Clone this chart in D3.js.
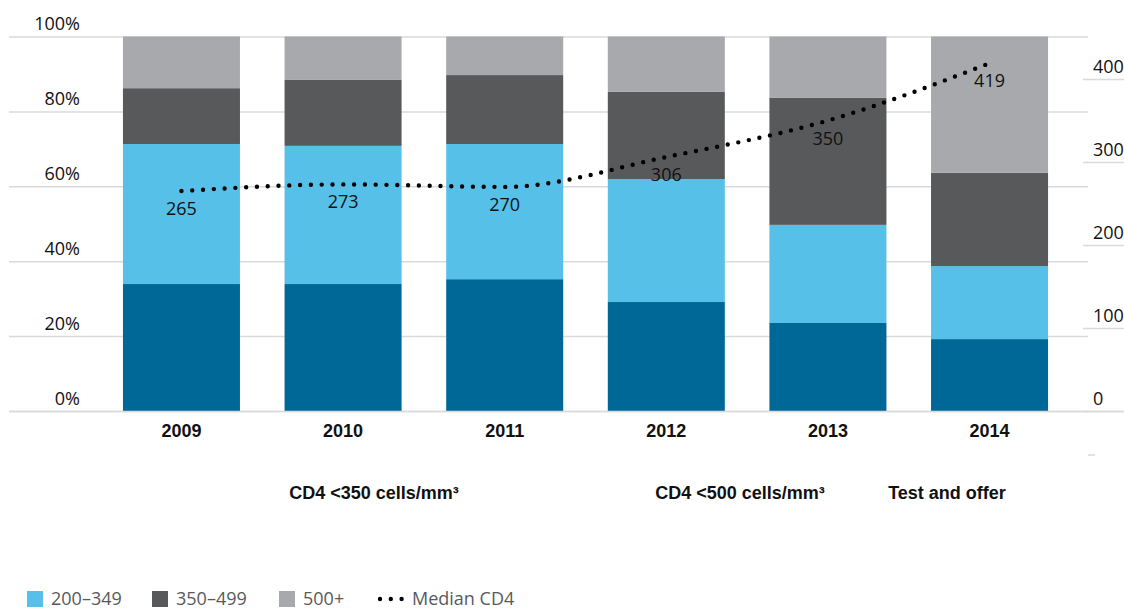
<!DOCTYPE html>
<html><head><meta charset="utf-8">
<script src="https://cdn.jsdelivr.net/npm/d3@7"></script>
<style>body{margin:0;background:#fff;overflow:hidden} svg{display:block}</style>
</head><body><svg id="c" width="1124" height="609"></svg>
<script>
// ---- data ----
const years = ["2009","2010","2011","2012","2013","2014"];
const seriesNames = ["<200","200–349","350–499","500+"];
const cd4Under200 = [33.9,33.9,35.2,29.1,23.5,19.2];
const cd4_200_349 = [37.4,36.9,36.1,32.8,26.2,19.5];
const cd4_350_499 = [14.9,17.6,18.4,23.3,33.9,24.9];
const cd4_500plus = [13.8,11.6,10.3,14.8,16.4,36.4];
const medianCD4 = [265,273,270,306,350,419];
const leftTicks = [0,20,40,60,80,100];
const rightTicks = [0,100,200,300,400];
const eligibility = ["CD4 <350 cells/mm³","CD4 <500 cells/mm³","Test and offer"];
const medianLabel = "Median CD4";

// ---- styles ----
const colors = ["#006896","#56c0e8","#58595b","#a7a9ac"];
const gridColor = "#d9dadb";
const axisFont = "'Open Sans', 'Noto Sans', sans-serif";
const condFont = "'Liberation Sans Narrow', 'Liberation Sans', sans-serif";

const svg = d3.select("#c");
const x = d3.scaleBand().domain(years).range([100,1071]).paddingInner(0.276).paddingOuter(0.142);
const yL = d3.scaleLinear().domain([0,100]).range([411,36.5]);
const yR = d3.scaleLinear().domain([0,400]).range([411,79]);

// left axis (gridlines + labels)
const gL = svg.append("g").attr("transform","translate(9,0)")
  .call(d3.axisRight(yL).tickValues(leftTicks).tickFormat(d=>d+"%").tickSize(1079));
gL.select(".domain").remove();
gL.selectAll(".tick line").attr("stroke",gridColor).attr("stroke-width",1.5);
gL.selectAll(".tick text").attr("x",71).attr("dy",-7).attr("text-anchor","end")
  .attr("font-family",axisFont).attr("font-size",18).attr("fill","#111");

// right axis
const gR = svg.append("g").attr("transform","translate(1083,0)")
  .call(d3.axisRight(yR).tickValues(rightTicks).tickSize(41));
gR.select(".domain").remove();
gR.selectAll(".tick line").attr("stroke",gridColor).attr("stroke-width",1.5);
gR.selectAll(".tick text").attr("x",10).attr("dy",-7).attr("text-anchor","start")
  .attr("font-family",axisFont).attr("font-size",18).attr("fill","#111");
svg.append("line").attr("x1",1088).attr("x2",1095).attr("y1",yR(-53)).attr("y2",yR(-53))
  .attr("stroke",gridColor).attr("stroke-width",1.5);

// stacked bars
const rows = years.map((yr,i)=>({year:yr, s0:cd4Under200[i], s1:cd4_200_349[i], s2:cd4_350_499[i], s3:cd4_500plus[i]}));
const stack = d3.stack().keys(["s0","s1","s2","s3"])(rows);
svg.append("g").selectAll("g").data(stack).join("g").attr("fill",(d,i)=>colors[i])
  .selectAll("rect").data(d=>d).join("rect")
  .attr("x",d=>x(d.data.year)).attr("width",x.bandwidth())
  .attr("y",d=>yL(Math.min(d[1],100))).attr("height",d=>yL(d[0])-yL(Math.min(d[1],100)));

// baseline over bars
svg.append("line").attr("x1",9).attr("x2",1124).attr("y1",yL(0)+0.5).attr("y2",yL(0)+0.5)
  .attr("stroke",gridColor).attr("stroke-width",1.5);

// median line
const cx = d => x(d)+x.bandwidth()/2;
const line = d3.line().x((d,i)=>cx(years[i])).y(d=>yR(d)).curve(d3.curveMonotoneX);
svg.append("path").datum(medianCD4).attr("d",line).attr("fill","none")
  .attr("stroke","#000").attr("stroke-width",4.4).attr("stroke-linecap","round")
  .attr("stroke-dasharray","0 10.8");
svg.append("g").selectAll("text").data(medianCD4).join("text")
  .attr("x",(d,i)=>cx(years[i])).attr("y",d=>yR(d)+24).attr("text-anchor","middle")
  .attr("font-family",axisFont).attr("font-size",18).attr("fill","#111").text(d=>d);

// year labels
svg.append("g").selectAll("text").data(years).join("text")
  .attr("x",d=>cx(d)).attr("y",437).attr("text-anchor","middle")
  .attr("font-family",condFont).attr("font-weight","bold").attr("font-size",18).attr("fill","#111").text(d=>d);

// eligibility labels
const eligX = [374,740,947];
svg.append("g").selectAll("text").data(eligibility).join("text")
  .attr("x",(d,i)=>eligX[i]).attr("y",499).attr("text-anchor","middle")
  .attr("font-family",condFont).attr("font-weight","bold").attr("font-size",18).attr("fill","#111").text(d=>d);

// legend
const lg = svg.append("g");
const legSw = [-66,27,152,279];
seriesNames.forEach((n,i)=>{
  lg.append("rect").attr("x",legSw[i]).attr("y",591).attr("width",16).attr("height",16).attr("fill",colors[i]);
  lg.append("text").attr("x",legSw[i]+24).attr("y",605).attr("font-family",axisFont).attr("font-size",18)
    .attr("fill","#58595b").text(n);
});
lg.append("line").attr("x1",380).attr("x2",402).attr("y1",599).attr("y2",599)
  .attr("stroke","#000").attr("stroke-width",4.4).attr("stroke-linecap","round").attr("stroke-dasharray","0 10.8");
lg.append("text").attr("x",412).attr("y",605).attr("font-family",axisFont).attr("font-size",18)
  .attr("fill","#58595b").text(medianLabel);
</script></body></html>
